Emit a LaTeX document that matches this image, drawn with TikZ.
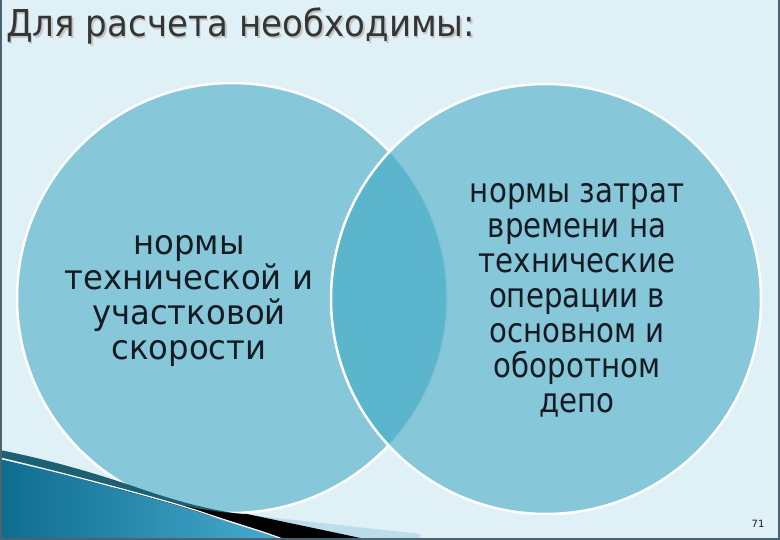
\documentclass[tikz,border=0pt]{standalone}
\usepackage{fontspec}
\setmainfont{DejaVu Sans}
\newfontfamily\bodyfont[FakeStretch=0.86]{DejaVu Sans}
\newfontfamily\leftbodyfont[FakeStretch=0.95]{DejaVu Sans}
\newfontfamily\titlefont[FakeStretch=0.92]{DejaVu Sans}
\definecolor{bgc}{HTML}{DFF1F6}
\definecolor{circc}{HTML}{86C7D9}
\definecolor{lensc}{HTML}{5BB5CD}
\definecolor{lensedge}{HTML}{7FC3D6}
\definecolor{framec}{HTML}{4A6272}
\definecolor{titlec}{HTML}{353535}
\definecolor{darkband}{HTML}{1D5F73}
\definecolor{swA}{HTML}{0E6C8E}
\definecolor{swB}{HTML}{49ACD2}
\definecolor{paleblue}{HTML}{BCDDE9}
\definecolor{textc}{HTML}{151B22}
\tikzset{
  circ/.style={fill=circc, draw=white, line width=2.5pt},
  bodytext/.style={align=center, text=textc, font=\bodyfont\fontsize{34}{35}\selectfont, inner sep=0pt},
}
\begin{document}
\begin{tikzpicture}[x=1pt,y=-1pt]
\useasboundingbox (0,0) rectangle (780,540);
\fill[bgc] (0,0) rectangle (780,540);
% circles
\draw[circ] (232,298) circle[radius=215pt];
\fill[circc] (546,299) circle[radius=215pt];
\begin{scope}
  \clip (232,298) circle[radius=215pt];
  \fill[lensc] (546,299) circle[radius=215pt];
\end{scope}
\begin{scope}
  \clip (546,299) circle[radius=214pt];
  \draw[lensedge, line width=1.2pt] (232,298) circle[radius=215pt];
\end{scope}
\draw[white, line width=2.5pt] (546,299) circle[radius=215pt];
% bottom-left swoosh
\fill[darkband] (0,450) .. controls (60,462) and (110,478) .. (150,492)
  .. controls (190,505) and (220,512) .. (250,515) -- (250,520)
  .. controls (180,512) and (80,478) .. (0,458) -- cycle;
\fill[paleblue] (240,514) -- (420,534) -- (420,540) -- (345,540) -- cycle;
\fill[black] (115,487) .. controls (170,505) and (215,513) .. (247,514)
  -- (370,540) -- (285,540) .. controls (250,528) and (200,512) .. (115,489) -- cycle;
\shade[left color=swA, right color=swB] (0,459) .. controls (80,478) and (180,505) .. (210,516)
  .. controls (240,526) and (265,533) .. (285,540) -- (0,540) -- cycle;
\draw[white, line width=1.2pt] (0,458) .. controls (80,477) and (180,504) .. (210,515)
  .. controls (240,525) and (265,532) .. (285,540);
% frame
\draw[framec, line width=2pt] (1,0) -- (1,539) -- (779,539) -- (779,0);
% texts
\node[anchor=base west, text=gray!45, font=\titlefont\fontsize{37}{40}\selectfont, inner sep=0pt] (titleshadow) at (7.5,38.5) {Для расчета необходимы:};
\node[anchor=base west, text=titlec, font=\titlefont\fontsize{37}{40}\selectfont, inner sep=0pt] (title) at (6,37) {Для расчета необходимы:};
\node[bodytext, font=\leftbodyfont\fontsize{34}{35}\selectfont] (lefttext) at (189,301) {нормы\\технической и\\участковой\\скорости};
\node[bodytext] (righttext) at (577,300) {нормы затрат\\времени на\\технические\\операции в\\основном и\\оборотном\\депо};
\node[anchor=base, text=textc, font=\fontsize{10}{12}\selectfont, inner sep=0pt] (pagenum) at (758,527) {71};
\end{tikzpicture}
\end{document}
